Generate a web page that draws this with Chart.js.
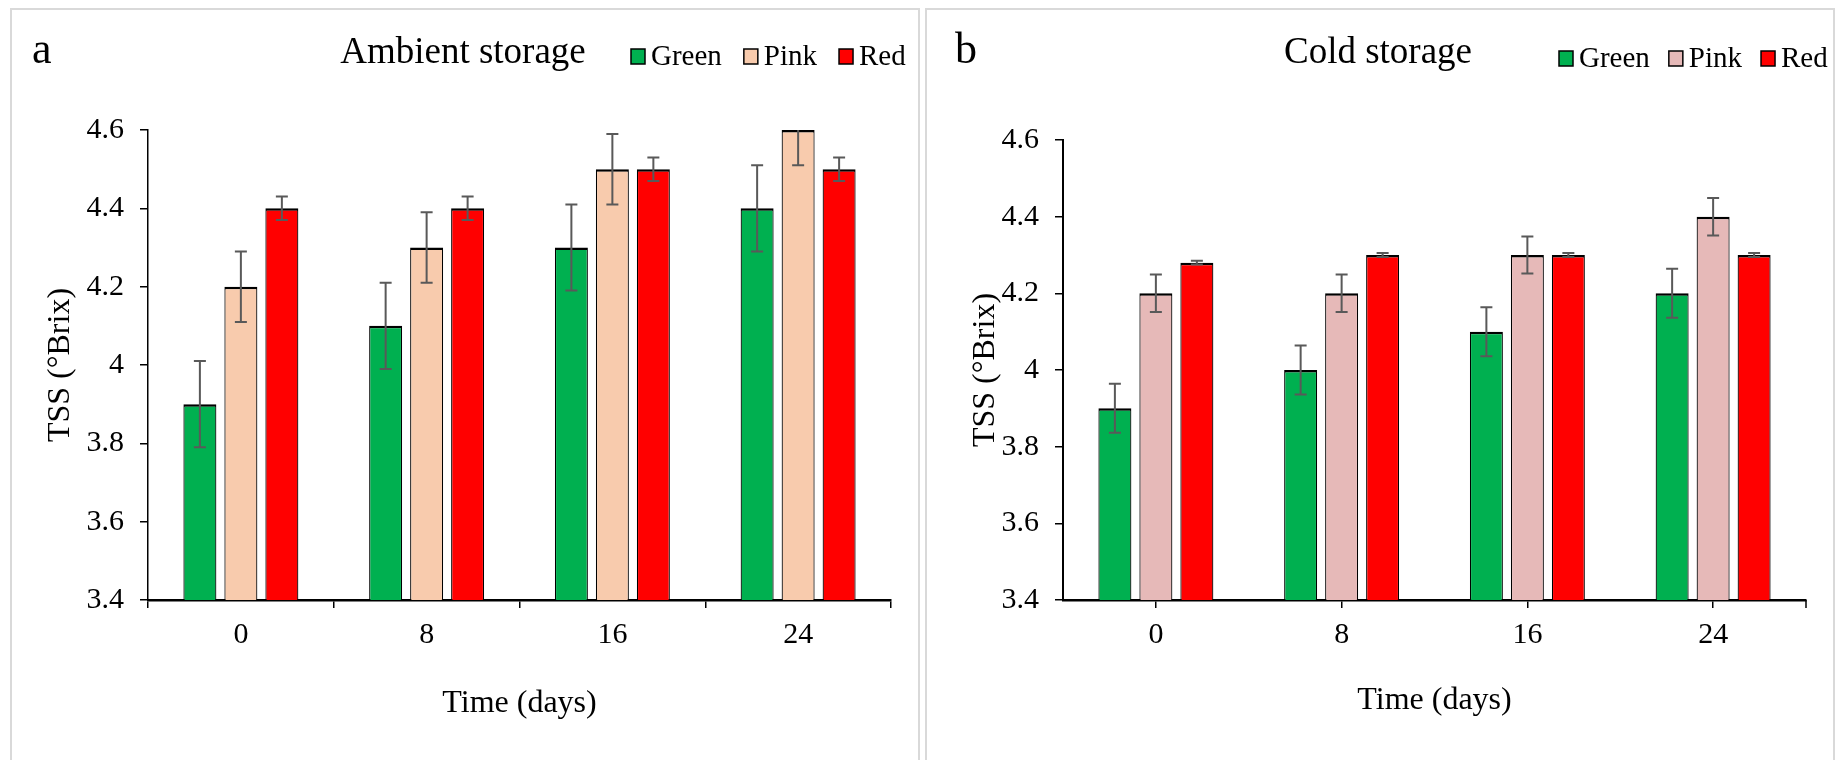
<!DOCTYPE html>
<html>
<head>
<meta charset="utf-8">
<script src="https://cdn.jsdelivr.net/npm/chart.js@4.4.0/dist/chart.umd.min.js"></script>
<style>
    html, body { margin: 0; padding: 0; background: #fff; }
    #wrap { position: relative; width: 1838px; height: 760px; overflow: hidden; }
    .frame { position: absolute; top: 8px; height: 800px; border: 2px solid #d9d9d9; box-sizing: border-box; }
    .pane { position: absolute; top: 0; height: 760px; }
</style>
</head>
<body>
<div id="wrap">
    <div class="frame" style="left:10px;width:910px"></div>
    <div class="frame" style="left:925px;width:910px"></div>
    <div class="pane" style="left:0;width:920px"><canvas id="chartA"></canvas></div>
    <div class="pane" style="left:920px;width:918px"><canvas id="chartB"></canvas></div>
</div>
<script>
const days = ['0', '8', '16', '24'];
const seriesNames = ['Green', 'Pink', 'Red'];
const yTicks = [3.4, 3.6, 3.8, 4, 4.2, 4.4, 4.6];

// ambient storage (a)
const ambientGreen = [3.9, 4.1, 4.3, 4.4];
const ambientPink = [4.2, 4.3, 4.5, 4.6];
const ambientRed = [4.4, 4.4, 4.5, 4.5];
const ambientGreenErr = [0.11, 0.11, 0.11, 0.11];
const ambientPinkErr = [0.09, 0.09, 0.09, 0.09];
const ambientRedErr = [0.03, 0.03, 0.03, 0.03];

// cold storage (b)
const coldGreen = [3.9, 4.0, 4.1, 4.2];
const coldPink = [4.2, 4.2, 4.3, 4.4];
const coldRed = [4.28, 4.3, 4.3, 4.3];
const coldGreenErr = [0.064, 0.064, 0.064, 0.064];
const coldPinkErr = [0.049, 0.049, 0.048, 0.049];
const coldRedErr = [0.005, 0.005, 0.005, 0.005];

const serif = '"Liberation Serif", "Times New Roman", serif';
const color_green = '#00b050';
const color_red = '#ff0000';

const errorBarPlugin = {
    id: 'errorBars',
    afterDatasetsDraw(chart) {
        const { ctx, chartArea, scales: { y } } = chart;
        ctx.save();
        ctx.strokeStyle = '#595959';
        ctx.lineWidth = 2;
        chart.data.datasets.forEach((ds, i) => {
            chart.getDatasetMeta(i).data.forEach((bar, j) => {
                const top = y.getPixelForValue(ds.data[j] + ds.errors[j]);
                const bot = y.getPixelForValue(ds.data[j] - ds.errors[j]);
                ctx.beginPath();
                ctx.moveTo(bar.x, Math.max(top, chartArea.top));
                ctx.lineTo(bar.x, bot);
                if (top >= chartArea.top) {
                    ctx.moveTo(bar.x - 6, top);
                    ctx.lineTo(bar.x + 6, top);
                }
                ctx.moveTo(bar.x - 6, bot);
                ctx.lineTo(bar.x + 6, bot);
                ctx.stroke();
            });
        });
        ctx.restore();
    },
};

// panel letter, title and the small legend on top
const headerPlugin = {
    id: 'header',
    afterDraw(chart, args, opts) {
        const { ctx, chartArea } = chart;
        ctx.save();
        ctx.fillStyle = '#000';
        ctx.textBaseline = 'alphabetic';
        ctx.textAlign = 'left';
        ctx.font = `44px ${serif}`;
        ctx.fillText(opts.letter, opts.letterX, 63);
        ctx.font = `37px ${serif}`;
        ctx.textAlign = 'center';
        ctx.fillText(opts.title, opts.titleX, 63);

        ctx.font = `29px ${serif}`;
        ctx.textAlign = 'left';
        let x = opts.legendX;
        chart.data.datasets.forEach((ds) => {
            ctx.fillStyle = ds.backgroundColor;
            ctx.fillRect(x, opts.legendY - 16, 14, 15);
            ctx.strokeStyle = '#000';
            ctx.lineWidth = 1.5;
            ctx.strokeRect(x, opts.legendY - 16, 14, 15);
            ctx.fillStyle = '#000';
            ctx.fillText(ds.label, x + 20, opts.legendY);
            x += 20 + ctx.measureText(ds.label).width + opts.legendGap;
        });

        if (opts.endTick) {
            ctx.strokeStyle = '#000';
            ctx.lineWidth = 1.5;
            ctx.beginPath();
            ctx.moveTo(chartArea.right, chartArea.bottom);
            ctx.lineTo(chartArea.right, chartArea.bottom + 8);
            ctx.stroke();
        }
        ctx.restore();
    },
};

function makeChart(id, cfg) {
    const font = { family: serif, size: 30 };
    const titleFont = { family: serif, size: 32 };
    return new Chart(document.getElementById(id), {
        type: 'bar',
        data: {
            labels: days,
            datasets: cfg.series.map((s, i) => ({
                label: seriesNames[i],
                data: s[0],
                errors: s[1],
                backgroundColor: cfg.colors[i],
                borderColor: '#000',
                borderWidth: { top: 2.5, left: 1.2, right: 1.2, bottom: 0 },
                barPercentage: 0.805,
                categoryPercentage: 0.662,
            })),
        },
        options: {
            responsive: true,
            maintainAspectRatio: false,
            animation: false,
            layout: { padding: { left: 30, right: cfg.padRight, top: cfg.padTop, bottom: 20 } },
            plugins: {
                legend: { display: false },
                tooltip: { enabled: false },
                header: cfg.header,
            },
            scales: {
                x: {
                    grid: { offset: cfg.tickBetween, drawOnChartArea: false, tickLength: 8, color: '#000', lineWidth: 1.5 },
                    border: { color: '#000', width: 2.5 },
                    ticks: { color: '#000', font, padding: 9 },
                    title: { display: true, text: 'Time (days)', color: '#000', font: titleFont, padding: { top: 0, bottom: cfg.xTitlePad } },
                    afterFit: (s) => { s.height = 140; },
                },
                y: {
                    min: 3.4,
                    max: 4.6,
                    afterBuildTicks: (s) => { s.ticks = yTicks.map((v) => ({ value: v })); },
                    grid: { drawOnChartArea: false, tickLength: 8, color: '#000', lineWidth: 1.5 },
                    border: { color: '#000', width: cfg.yBorder },
                    ticks: { color: '#000', font, padding: 16, callback: (v) => String(v) },
                    title: { display: true, text: 'TSS (°Brix)', color: '#000', font: titleFont, padding: { top: cfg.yTitlePad, bottom: 0 } },
                    afterFit: (s) => { s.width = cfg.yWidth; },
                },
            },
        },
        plugins: [errorBarPlugin, headerPlugin],
    });
}

makeChart('chartA', {
    series: [[ambientGreen, ambientGreenErr], [ambientPink, ambientPinkErr], [ambientRed, ambientRedErr]],
    colors: [color_green, '#f8cbad', color_red],
    padTop: 130, padRight: 29, yWidth: 118, yTitlePad: 11, xTitlePad: 17, yBorder: 1.5,
    tickBetween: true,
    header: { letter: 'a', letterX: 32, title: 'Ambient storage', titleX: 463, legendX: 631, legendY: 65, legendGap: 22, endTick: false },
});

makeChart('chartB', {
    series: [[coldGreen, coldGreenErr], [coldPink, coldPinkErr], [coldRed, coldRedErr]],
    colors: [color_green, '#e6b9b8', color_red],
    padTop: 140, padRight: 32, yWidth: 113, yTitlePad: 16, xTitlePad: 20, yBorder: 2,
    tickBetween: false,
    header: { letter: 'b', letterX: 35, title: 'Cold storage', titleX: 458, legendX: 639, legendY: 67, legendGap: 19, endTick: true },
});
</script>
</body>
</html>
